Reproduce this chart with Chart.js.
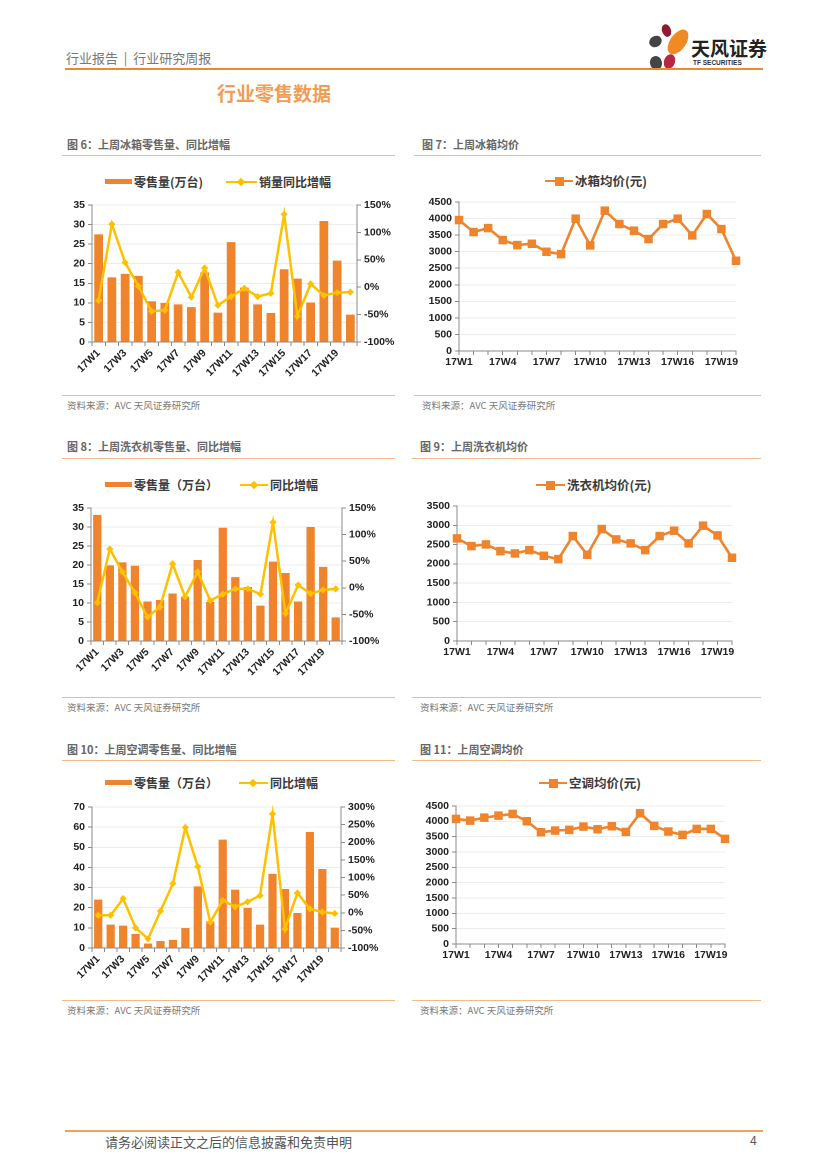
<!DOCTYPE html>
<html><head><meta charset="utf-8">
<script src="https://cdn.jsdelivr.net/npm/chart.js@4.4.0/dist/chart.umd.min.js"></script>
<style>
html,body{margin:0;padding:0;background:#fff}
body{width:827px;height:1169px;position:relative;overflow:hidden;font-family:"Noto Sans CJK SC","Noto Sans",sans-serif}
.t{position:absolute;white-space:nowrap;line-height:1}
.hl{position:absolute;height:0}
.cap{font-size:11px;color:#666;font-weight:bold}
.src{font-size:9.5px;color:#7a7a7a}
.lg{font-size:12px;color:#3a3a3a;font-weight:bold}
.capline{border-top:1.5px solid #F4B98A}
.wrap{position:absolute}
.sw-bar{position:absolute;height:5px;background:#F0842C}
.sw-line{position:absolute;height:0}
.mk{position:absolute}
.petal{position:absolute;border-radius:50%}
</style>
</head><body>

<!-- header -->
<div class="t" style="left:66px;top:51px;font-size:13px;color:#777">行业报告&nbsp;&nbsp;|&nbsp;&nbsp;行业研究周报</div>
<div class="petal" style="left:662px;top:24px;width:9px;height:13px;background:#8E1B33;transform:rotate(-20deg)"></div>
<div class="petal" style="left:649px;top:36px;width:13px;height:11px;background:#444;transform:rotate(-30deg)"></div>
<div class="petal" style="left:670px;top:28px;width:16px;height:28px;background:#F08A24;transform:rotate(35deg)"></div>
<div class="petal" style="left:664px;top:54px;width:11px;height:15px;background:#B5283F;transform:rotate(20deg)"></div>
<div class="petal" style="left:650px;top:56px;width:12px;height:14px;background:#444;transform:rotate(-15deg)"></div>
<div class="t" style="left:691px;top:38px;font-size:19px;font-weight:bold;color:#222">天风证券</div>
<div class="t" style="left:693px;top:60px;font-size:6.5px;font-weight:bold;color:#333;font-family:'Liberation Sans',Arial,sans-serif">TF SECURITIES</div>
<div class="hl" style="left:65px;top:68px;width:698px;border-top:2px solid #F0892E"></div>
<div class="t" style="left:217px;top:83px;font-size:19px;font-weight:bold;color:#F39C52">行业零售数据</div>

<!-- captions & lines -->
<div class="t cap" style="left:67px;top:139px">图 6：上周冰箱零售量、同比增幅</div>
<div class="hl capline" style="left:62px;top:155px;width:333px"></div>
<div class="t cap" style="left:422px;top:139px">图 7：上周冰箱均价</div>
<div class="hl capline" style="left:414px;top:155px;width:347px"></div>
<div class="hl capline" style="left:62px;top:395px;width:333px"></div>
<div class="t src" style="left:67px;top:401px">资料来源：AVC 天风证券研究所</div>
<div class="hl capline" style="left:414px;top:395px;width:347px"></div>
<div class="t src" style="left:422px;top:401px">资料来源：AVC 天风证券研究所</div>

<div class="t cap" style="left:67px;top:441px">图 8：上周洗衣机零售量、同比增幅</div>
<div class="hl capline" style="left:62px;top:458px;width:333px"></div>
<div class="t cap" style="left:420px;top:441px">图 9：上周洗衣机均价</div>
<div class="hl capline" style="left:412px;top:458px;width:349px"></div>
<div class="hl capline" style="left:62px;top:697px;width:333px"></div>
<div class="t src" style="left:67px;top:703px">资料来源：AVC 天风证券研究所</div>
<div class="hl capline" style="left:412px;top:697px;width:349px"></div>
<div class="t src" style="left:420px;top:703px">资料来源：AVC 天风证券研究所</div>

<div class="t cap" style="left:67px;top:744px">图 10：上周空调零售量、同比增幅</div>
<div class="hl capline" style="left:62px;top:760px;width:333px"></div>
<div class="t cap" style="left:420px;top:744px">图 11：上周空调均价</div>
<div class="hl capline" style="left:412px;top:760px;width:349px"></div>
<div class="hl capline" style="left:62px;top:1000px;width:333px"></div>
<div class="t src" style="left:67px;top:1006px">资料来源：AVC 天风证券研究所</div>
<div class="hl capline" style="left:412px;top:1000px;width:349px"></div>
<div class="t src" style="left:420px;top:1006px">资料来源：AVC 天风证券研究所</div>

<!-- legends: combo -->
<div class="sw-bar" style="left:105px;top:179px;width:27px"></div>
<div class="t lg" style="left:134px;top:176px">零售量(万台)</div>
<div class="sw-line" style="left:226px;top:181px;width:31px;border-top:2.5px solid #FFC000"></div>
<div class="mk" style="left:238px;top:179px;width:6px;height:6px;background:#FFC000;transform:rotate(45deg)"></div>
<div class="t lg" style="left:259px;top:176px">销量同比增幅</div>

<div class="sw-bar" style="left:105px;top:482px;width:27px"></div>
<div class="t lg" style="left:134px;top:479px">零售量（万台）</div>
<div class="sw-line" style="left:240px;top:484px;width:28px;border-top:2.5px solid #FFC000"></div>
<div class="mk" style="left:251px;top:482px;width:6px;height:6px;background:#FFC000;transform:rotate(45deg)"></div>
<div class="t lg" style="left:270px;top:479px">同比增幅</div>

<div class="sw-bar" style="left:105px;top:780px;width:27px"></div>
<div class="t lg" style="left:134px;top:777px">零售量（万台）</div>
<div class="sw-line" style="left:239px;top:782px;width:29px;border-top:2.5px solid #FFC000"></div>
<div class="mk" style="left:250px;top:780px;width:6px;height:6px;background:#FFC000;transform:rotate(45deg)"></div>
<div class="t lg" style="left:270px;top:777px">同比增幅</div>

<!-- legends: price -->
<div class="sw-line" style="left:545px;top:180px;width:28px;border-top:2.5px solid #F0842C"></div>
<div class="mk" style="left:555px;top:177px;width:9px;height:9px;background:#F0842C"></div>
<div class="t lg" style="left:575px;top:175px;font-size:12.5px">冰箱均价(元)</div>

<div class="sw-line" style="left:536px;top:484px;width:29px;border-top:2.5px solid #F0842C"></div>
<div class="mk" style="left:546px;top:481px;width:9px;height:9px;background:#F0842C"></div>
<div class="t lg" style="left:567px;top:479px;font-size:12.5px">洗衣机均价(元)</div>

<div class="sw-line" style="left:539px;top:782px;width:28px;border-top:2.5px solid #F0842C"></div>
<div class="mk" style="left:549px;top:779px;width:9px;height:9px;background:#F0842C"></div>
<div class="t lg" style="left:569px;top:777px;font-size:12.5px">空调均价(元)</div>

<!-- chart canvases -->
<div class="wrap" id="c6"><canvas></canvas></div>
<div class="wrap" id="c7"><canvas></canvas></div>
<div class="wrap" id="c8"><canvas></canvas></div>
<div class="wrap" id="c9"><canvas></canvas></div>
<div class="wrap" id="c10"><canvas></canvas></div>
<div class="wrap" id="c11"><canvas></canvas></div>

<!-- footer -->
<div class="hl" style="left:65px;top:1130px;width:698px;border-top:2px solid #EFA455"></div>
<div class="t" style="left:105px;top:1135px;font-size:13px;color:#555">请务必阅读正文之后的信息披露和免责申明</div>
<div class="t" style="left:750px;top:1135px;font-size:12px;color:#555;font-family:'Liberation Sans',Arial,sans-serif">4</div>

<script>
// ---- data ----
const weeks = ['17W1','17W2','17W3','17W4','17W5','17W6','17W7','17W8','17W9','17W10',
               '17W11','17W12','17W13','17W14','17W15','17W16','17W17','17W18','17W19','17W20'];

const fridgeSales = [27.5,16.5,17.4,16.9,10.4,10.0,9.6,8.9,17.8,7.5,25.5,13.9,9.6,7.4,18.6,16.2,10.1,30.9,20.8,7.0];
const fridgeYoY   = [-24,115,45,2,-44,-42,27,-18,35,-33,-17,-2,-17,-11,133,-53,6,-15,-10,-9];
const fridgePrice = [3955,3592,3713,3350,3199,3239,2997,2926,3996,3189,4238,3835,3633,3380,3835,3996,3491,4137,3683,2725];

const washerSales = [33.2,19.9,20.7,19.8,10.4,10.8,12.5,11.6,21.3,10.3,29.8,16.8,14.2,9.3,20.9,17.9,10.4,30.0,19.5,6.2];
const washerYoY   = [-28,73,30,-9,-55,-36,45,-17,30,-24,-12,-2,-2,-12,123,-48,5,-11,-4,-2];
const washerPrice = [2660,2461,2504,2331,2270,2357,2210,2123,2721,2236,2903,2634,2530,2357,2721,2860,2530,2990,2738,2158];

const acSales = [24.0,11.6,11.1,7.0,2.2,3.5,4.0,9.9,30.6,13.2,53.8,29.0,19.9,11.6,36.8,29.3,17.4,57.6,39.2,10.1];
const acYoY   = [-7,-7,40,-43,-74,5,83,242,131,-27,35,17,31,49,280,-46,56,11,2,-2];
const acPrice = [4078,4024,4121,4186,4241,4002,3645,3699,3721,3829,3743,3840,3656,4262,3851,3667,3559,3753,3753,3429];

// ---- style ----
const ORANGE = '#F0842C', YELLOW = '#FFC000', AXIS = '#8a8a8a', GRID = '#ececec', TXT = '#222';
const tickFont = {family:'"Liberation Sans", Arial, sans-serif', size:10.5, weight:'bold'};

function place(id, box){
  const w = document.getElementById(id);
  w.style.left = box.x+'px'; w.style.top = box.y+'px';
  w.style.width = box.w+'px'; w.style.height = box.h+'px';
  return w.querySelector('canvas');
}

function makeCombo(id, box, plot, sales, yoy, yMax, yStep, rMin, rMax, rStep){
  const cv = place(id, box);
  const leftW = plot.l - box.x, rightW = box.x + box.w - plot.r;
  const topP = plot.t - box.y, xH = box.y + box.h - plot.b;
  new Chart(cv, {
    type:'bar',
    data:{labels:weeks, datasets:[
      {type:'line', label:'同比增幅', data:yoy, yAxisID:'y1', borderColor:YELLOW, backgroundColor:YELLOW,
       borderWidth:2.5, pointStyle:'rectRot', pointRadius:3.6, pointBorderWidth:0, tension:0, order:0, clip:false},
      {type:'bar', label:'零售量', data:sales, yAxisID:'y', backgroundColor:ORANGE,
       barPercentage:0.66, categoryPercentage:1, order:1}
    ]},
    options:{
      responsive:true, maintainAspectRatio:false, animation:false, devicePixelRatio:2,
      layout:{padding:{top:topP,left:0,right:0,bottom:0}, autoPadding:false},
      plugins:{legend:{display:false}, tooltip:{enabled:false}},
      scales:{
        x:{offset:true,
           grid:{offset:true, drawOnChartArea:false, drawTicks:true, tickLength:4, tickColor:AXIS, color:AXIS},
           border:{color:AXIS},
           ticks:{autoSkip:false, maxRotation:45, minRotation:45, padding:1, color:TXT, font:tickFont,
                  callback:(v,i)=> i%2===0 ? weeks[i] : ''},
           afterFit:s=>{s.height=xH; s.paddingLeft=0; s.paddingRight=0;}},
        y:{position:'left', min:0, max:yMax,
           ticks:{stepSize:yStep, autoSkip:false, color:TXT, font:tickFont, padding:3, callback:v=>String(v)},
           grid:{color:GRID, tickColor:AXIS, tickLength:4},
           border:{color:AXIS},
           afterFit:s=>{s.width=leftW; s.paddingTop=0; s.paddingBottom=0;}},
        y1:{position:'right', min:rMin, max:rMax,
           ticks:{stepSize:rStep, autoSkip:false, color:TXT, font:tickFont, padding:3, callback:v=>v+'%'},
           grid:{drawOnChartArea:false, tickColor:AXIS, tickLength:4},
           border:{color:AXIS},
           afterFit:s=>{s.width=rightW; s.paddingTop=0; s.paddingBottom=0;}}
      }
    }
  });
}

function makePrice(id, box, plot, data, label, yMax){
  const cv = place(id, box);
  const leftW = plot.l - box.x, rightP = box.x + box.w - plot.r;
  const topP = plot.t - box.y, xH = box.y + box.h - plot.b;
  new Chart(cv, {
    type:'line',
    data:{labels:weeks, datasets:[
      {label:label, data:data, borderColor:ORANGE, backgroundColor:ORANGE, borderWidth:2.6,
       pointStyle:'rect', pointRadius:6, pointBorderWidth:0, tension:0, clip:false}
    ]},
    options:{
      responsive:true, maintainAspectRatio:false, animation:false, devicePixelRatio:2,
      layout:{padding:{top:topP,left:0,right:rightP,bottom:0}, autoPadding:false},
      plugins:{legend:{display:false}, tooltip:{enabled:false}},
      scales:{
        x:{offset:false,
           grid:{offset:false, drawOnChartArea:false, drawTicks:true, tickLength:4, tickColor:AXIS, color:AXIS},
           border:{color:AXIS},
           ticks:{autoSkip:false, maxRotation:0, minRotation:0, padding:1, color:TXT, font:tickFont,
                  callback:(v,i)=> i%3===0 ? weeks[i] : ''},
           afterFit:s=>{s.height=xH; s.paddingLeft=0; s.paddingRight=0;}},
        y:{min:0, max:yMax,
           ticks:{stepSize:500, autoSkip:false, color:TXT, font:tickFont, padding:3, callback:v=>String(v)},
           grid:{color:GRID, tickColor:AXIS, tickLength:4},
           border:{color:AXIS},
           afterFit:s=>{s.width=leftW; s.paddingTop=0; s.paddingBottom=0;}}
      }
    }
  });
}

makeCombo('c6',  {x:58,y:195,w:354,h:190}, {l:92,t:205,r:357,b:342}, fridgeSales, fridgeYoY, 35, 5, -100, 150, 50);
makeCombo('c8',  {x:58,y:498,w:354,h:190}, {l:91,t:508,r:342,b:641}, washerSales, washerYoY, 35, 5, -100, 150, 50);
makeCombo('c10', {x:58,y:797,w:354,h:190}, {l:92,t:807,r:341,b:948}, acSales, acYoY, 70, 10, -100, 300, 50);

makePrice('c7',  {x:412,y:192,w:345,h:182}, {l:459,t:202,r:736,b:351}, fridgePrice, '冰箱均价(元)', 4500);
makePrice('c9',  {x:412,y:496,w:345,h:172}, {l:457,t:506,r:732,b:641}, washerPrice, '洗衣机均价(元)', 3500);
makePrice('c11', {x:412,y:796,w:345,h:172}, {l:456,t:806,r:725,b:944}, acPrice, '空调均价(元)', 4500);
</script>
</body></html>
